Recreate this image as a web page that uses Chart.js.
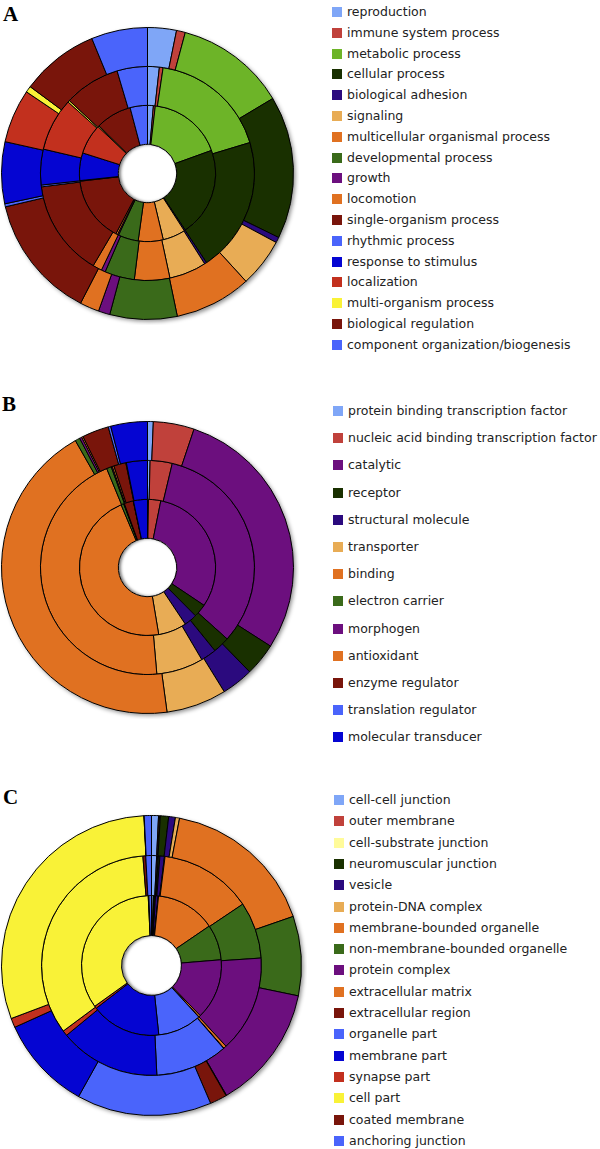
<!DOCTYPE html>
<html>
<head>
<meta charset="utf-8">
<script src="https://cdn.jsdelivr.net/npm/chart.js@4"></script>
<style>
  body { margin: 0; width: 600px; height: 1149px; position: relative; background: #fff; overflow: hidden;
         font-family: "DejaVu Sans", Verdana, sans-serif; }
  .tag { position: absolute; font-family: "Liberation Serif", "Times New Roman", serif; font-weight: bold; font-size: 21px; line-height: 1; color: #000; }
  canvas { position: absolute; }
  .legend { position: absolute; left: 0; top: 0; }
  .item { position: absolute; white-space: nowrap; font-size: 12.5px; line-height: 14px; color: #222; }
  .item i { position: absolute; left: 0; top: 2px; width: 10px; height: 10px; }
  .item span { position: absolute; left: 15px; top: 0; }
</style>
</head>
<body>
<div class="tag" style="left:3px;top:4px">A</div>
<div class="tag" style="left:2px;top:394px">B</div>
<div class="tag" style="left:3px;top:787px">C</div>

<canvas id="chartA" width="303" height="303" style="left:-4px;top:22px"></canvas>
<canvas id="chartB" width="303" height="303" style="left:-4px;top:416px"></canvas>
<canvas id="chartC" width="311" height="311" style="left:-4px;top:810px"></canvas>
<div id="legends" class="legend"></div>

<script>
// 색상
const lightBlue = "#7fa6f7";
const red = "#c0413b";
const yellowGreen = "#6db428";
const darkGreen = "#193000";
const darkPurple = "#2b0a7e";
const tan = "#e8ac55";
const orange = "#e07121";
const green = "#3a6a1a";
const purple = "#6c0f7e";
const darkRed = "#79150b";
const blue = "#4a64fb";
const deepBlue = "#0505d2";
const red2 = "#c2301e";
const yellow = "#f9f237";
const paleYellow = "#fffb9a";

// A: biological process
const labelsA = [
  "reproduction", "immune system process", "metabolic process", "cellular process",
  "biological adhesion", "signaling", "multicellular organismal process", "developmental process",
  "growth", "locomotion", "single-organism process", "rhythmic process", "response to stimulus",
  "localization", "multi-organism process", "biological regulation", "component organization/biogenesis",
];
const colorsA = [lightBlue, red, yellowGreen, darkGreen, darkPurple, tan, orange, green,
  purple, orange, darkRed, blue, deepBlue, red2, yellow, darkRed, blue];
const outerA = [11.5, 3.5, 44.1, 56.9, 2.2, 19.4, 30.6, 26.8, 4.6, 7.7, 49.5, 1.2, 24.6, 21.4, 2.5, 31.1, 22.4];
const middleA = [6.4, 2.0, 64.8, 73.3, 1.2, 20.2, 19.2, 16.2, 2.2, 5.0, 52.3, 1.0, 19.4, 28.8, 1.0, 30.5, 16.5];
const innerA = [5.0, 1.6, 63.6, 76.1, 1.0, 19.3, 21.3, 17.3, 1.0, 1.5, 55.8, 0.5, 23.6, 25.9, 1.0, 30.7, 14.8];

// B: molecular function
const labelsB = [
  "protein binding transcription factor", "nucleic acid binding transcription factor", "catalytic",
  "receptor", "structural molecule", "transporter", "binding", "electron carrier", "morphogen",
  "antioxidant", "enzyme regulator", "translation regulator", "molecular transducer",
];
const colorsB = [lightBlue, red, purple, darkGreen, darkPurple, tan, orange, green, purple,
  orange, darkRed, blue, deepBlue];
const outerB = [2.3, 16.3, 104, 13, 12.7, 24, 158.1, 1.9, 0.9, 0.6, 10.6, 1.0, 14.6];
const middleB = [1.4, 12.0, 118.5, 9.1, 8.5, 25.5, 162.6, 2.6, 0.6, 0.9, 6.6, 0.3, 11.4];
const innerB = [0.8, 10.5, 112.5, 11.4, 11.1, 24.2, 166.7, 2.3, 0.3, 0.3, 7.8, 0.2, 11.9];

// C: cellular component
const labelsC = [
  "cell-cell junction", "outer membrane", "cell-substrate junction", "neuromuscular junction",
  "vesicle", "protein-DNA complex", "membrane-bounded organelle", "non-membrane-bounded organelle",
  "protein complex", "extracellular matrix", "extracellular region", "organelle part",
  "membrane part", "synapse part", "cell part", "coated membrane", "anchoring junction",
];
const colorsC = [lightBlue, red, paleYellow, darkGreen, darkPurple, tan, orange, green,
  purple, orange, darkRed, blue, deepBlue, red2, yellow, darkRed, blue];
const outerC = [2.7, 0.4, 0.3, 3.2, 2.6, 1.6, 60.1, 30.8, 48.3, 0.2, 6.6, 52.3, 36.6, 3.6, 107.8, 0.1, 2.8];
const middleC = [2.7, 0.5, 0.4, 0.8, 2.4, 0.3, 49, 30, 51.2, 1.5, 0.2, 38.2, 53.4, 2.8, 122.1, 1.5, 3.0];
const innerC = [1.5, 0.5, 0.3, 1.0, 2.2, 0.3, 49.9, 29.6, 50.5, 1.5, 0.2, 36.5, 58.3, 2.0, 123, 0.5, 2.2];

// 바깥 그림자와 가운데 구멍 그림자
const ringShadow = {
  id: "ringShadow",
  beforeDatasetsDraw(chart) {
    const arc = chart.getDatasetMeta(0).data[0];
    const { x, y, outerRadius } = arc.getProps(["x", "y", "outerRadius"], true);
    const ctx = chart.ctx;
    ctx.save();
    ctx.shadowColor = "rgba(0,0,0,0.45)";
    ctx.shadowBlur = 4;
    ctx.shadowOffsetX = 2;
    ctx.shadowOffsetY = 2;
    ctx.fillStyle = "#fff";
    ctx.beginPath();
    ctx.arc(x, y, outerRadius, 0, Math.PI * 2);
    ctx.fill();
    ctx.restore();
  },
  afterDatasetsDraw(chart) {
    const last = chart.data.datasets.length - 1;
    const arc = chart.getDatasetMeta(last).data[0];
    const { x, y, innerRadius } = arc.getProps(["x", "y", "innerRadius"], true);
    const ctx = chart.ctx;
    ctx.save();
    ctx.beginPath();
    ctx.arc(x, y, innerRadius - 0.5, 0, Math.PI * 2);
    ctx.clip();
    ctx.beginPath();
    ctx.arc(x, y, innerRadius + 20, 0, Math.PI * 2);
    ctx.arc(x, y, innerRadius - 0.5, 0, Math.PI * 2, true);
    ctx.shadowColor = "rgba(0,0,0,0.5)";
    ctx.shadowBlur = 3;
    ctx.shadowOffsetX = 2;
    ctx.shadowOffsetY = 0;
    ctx.fillStyle = "#000";
    ctx.fill();
    ctx.restore();
  },
};

function renderRings(id, labels, colors, rings) {
  new Chart(document.getElementById(id), {
    type: "doughnut",
    data: {
      labels: labels,
      datasets: rings.map((values) => ({
        data: values,
        backgroundColor: colors,
        borderColor: "#000",
        borderWidth: 1,
        hoverOffset: 0,
      })),
    },
    options: {
      responsive: false,
      animation: false,
      cutout: "20%",
      layout: { padding: 5 },
      events: [],
      plugins: { legend: { display: false }, tooltip: { enabled: false } },
    },
    plugins: [ringShadow],
  });
}

// 범례 (HTML)
function renderLegend(labels, colors, left, top, step) {
  const box = document.getElementById("legends");
  labels.forEach((label, i) => {
    const row = document.createElement("div");
    row.className = "item";
    row.style.left = left + "px";
    row.style.top = Math.round(top + i * step - 7) + "px";
    row.innerHTML = `<i style="background:${colors[i]}"></i><span>${label}</span>`;
    box.appendChild(row);
  });
}

renderRings("chartA", labelsA, colorsA, [outerA, middleA, innerA]);
renderRings("chartB", labelsB, colorsB, [outerB, middleB, innerB]);
renderRings("chartC", labelsC, colorsC, [outerC, middleC, innerC]);

renderLegend(labelsA, colorsA, 332, 12, 20.8);
renderLegend(labelsB, colorsB, 333, 411, 27.2);
renderLegend(labelsC, colorsC, 334, 800, 21.3);
</script>
</body>
</html>
